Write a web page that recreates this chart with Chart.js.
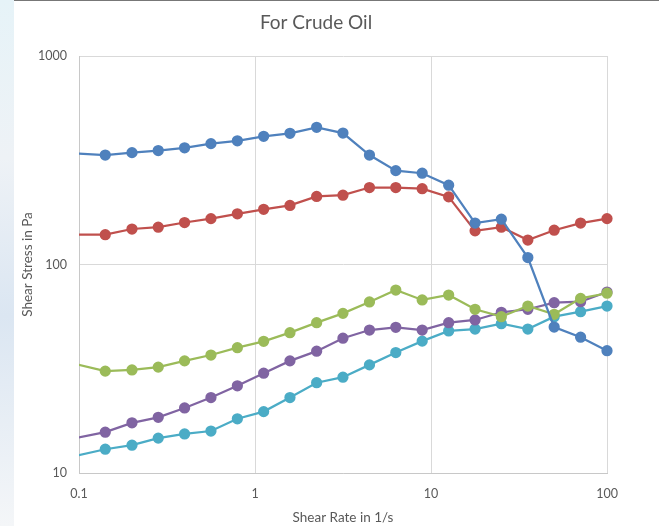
<!DOCTYPE html>
<html>
<head>
<meta charset="utf-8">
<script src="https://cdn.jsdelivr.net/npm/chart.js@4/dist/chart.umd.min.js"></script>
<style>
  html, body { margin: 0; padding: 0; background: #fff; }
  #wrap { position: relative; width: 665px; height: 526px; overflow: hidden; }
  #edge { position: absolute; left: 0; top: 0; width: 14px; height: 526px;
          background: linear-gradient(#e6f3f8 0%, #eef2f6 30%, #dbe6f2 60%, #f4f6f8 100%); }
  #topline { position: absolute; left: 14px; top: 0; width: 645px; height: 1px; background: #777; }
  canvas { position: absolute; left: 0; top: 0; }
</style>
</head>
<body>
<div id="wrap">
  <div id="edge"></div>
  <div id="topline"></div>
  <canvas id="chart" width="665" height="526"></canvas>
</div>
<script>
// shear rate (1/s); the first point sits just left of the axis and is clipped
const shearRate = [0.0708, 0.141, 0.2, 0.282, 0.398, 0.562, 0.794, 1.12, 1.58, 2.24, 3.16,
                   4.47, 6.31, 8.91, 12.6, 17.8, 25.1, 35.5, 50.1, 70.8, 100];

// shear stress (Pa)
const blueStress   = [346, 335, 344, 352, 363, 380, 392, 412, 426, 455, 427,
                      335, 282, 274, 240, 158, 165, 108, 50.1, 44.8, 38.6];
const redStress    = [139, 139, 148, 151, 159, 166, 175, 184, 192, 212, 215,
                      234, 234, 231, 211, 145, 151, 131, 146, 158, 166];
const greenStress  = [35.4, 30.8, 31.2, 32.2, 34.5, 36.8, 39.9, 42.8, 47.1, 52.6, 58.3,
                      66.1, 75.4, 67.6, 71.4, 61.0, 56.2, 63.2, 57.7, 68.8, 72.8];
const purpleStress = [14.0, 15.7, 17.4, 18.5, 20.5, 23.0, 26.2, 30.1, 34.5, 38.4, 44.3,
                      48.5, 50.0, 48.5, 52.6, 54.2, 59.0, 61.0, 65.6, 66.3, 73.8];
const cyanStress   = [11.4, 13.0, 13.6, 14.7, 15.4, 15.9, 18.2, 19.7, 23.0, 27.1, 28.8,
                      33.0, 37.8, 42.9, 48.0, 49.0, 52.0, 49.0, 56.2, 59.4, 63.2];

const xTicks = [0.1, 1, 10, 100];
const yTicks = [10, 100, 1000];

const seriesColors = ['#4f81bd', '#c0504d', '#9bbb59', '#8064a2', '#4bacc6'];
const allSeries = [blueStress, redStress, greenStress, purpleStress, cyanStress];

function toPoints(values) {
  return values.map((v, i) => ({ x: shearRate[i], y: v }));
}

const datasets = allSeries.map((values, i) => ({
  data: toPoints(values),
  borderColor: seriesColors[i],
  backgroundColor: seriesColors[i],
  pointBackgroundColor: seriesColors[i],
  pointBorderColor: seriesColors[i],
  borderWidth: 2.25,
  pointRadius: 4.5,
  pointHoverRadius: 4.5,
  tension: 0,
  clip: { left: 0, top: 8, right: 8, bottom: 8 },
}));

const txt = '#595959';
const fontFam = 'Lato, "Open Sans", sans-serif';

// the title sits a bit right of the plot's centre, so it is drawn by hand
const chartTitle = {
  id: 'chartTitle',
  afterDraw(chart) {
    const c = chart.ctx;
    c.save();
    c.fillStyle = txt;
    c.font = '19px ' + fontFam;
    c.textAlign = 'center';
    c.textBaseline = 'middle';
    c.fillText('For Crude Oil', 316, 23);
    c.restore();
  },
};

const config = {
  type: 'line',
  data: { datasets: datasets },
  options: {
    responsive: false,
    animation: false,
    layout: { padding: { left: 0, right: 58, top: 56, bottom: 0 } },
    plugins: {
      legend: { display: false },
      tooltip: { enabled: false },
      title: { display: false },
    },
    scales: {
      x: {
        type: 'logarithmic',
        min: 0.1,
        max: 100,
        afterBuildTicks: (scale) => { scale.ticks = xTicks.map(v => ({ value: v })); },
        afterFit: (scale) => { scale.height = 53; },
        ticks: {
          color: txt,
          font: { family: fontFam, size: 12.5 },
          padding: 13,
          maxRotation: 0,
          autoSkip: false,
          callback: (v) => String(v),
        },
        grid: { color: '#d9d9d9', drawTicks: false, lineWidth: 1 },
        border: { color: '#c8c8c8' },
        title: {
          display: true,
          text: 'Shear Rate in 1/s',
          color: txt,
          font: { family: fontFam, size: 13.5 },
          padding: { top: 4, bottom: 0 },
        },
      },
      y: {
        type: 'logarithmic',
        min: 10,
        max: 1000,
        afterBuildTicks: (scale) => { scale.ticks = yTicks.map(v => ({ value: v })); },
        afterFit: (scale) => { scale.width = 79; },
        ticks: {
          color: txt,
          font: { family: fontFam, size: 12.5 },
          padding: 12,
          autoSkip: false,
          callback: (v) => String(v),
        },
        grid: { color: '#d9d9d9', drawTicks: false, lineWidth: 1 },
        border: { color: '#c8c8c8' },
        title: {
          display: true,
          text: 'Shear Stress in Pa',
          color: txt,
          font: { family: fontFam, size: 13.5 },
          padding: { top: 20, bottom: 0 },
        },
      },
    },
  },
  plugins: [chartTitle],
};

const ctx = document.getElementById('chart');
window.myChart = new Chart(ctx, config);
</script>
</body>
</html>
